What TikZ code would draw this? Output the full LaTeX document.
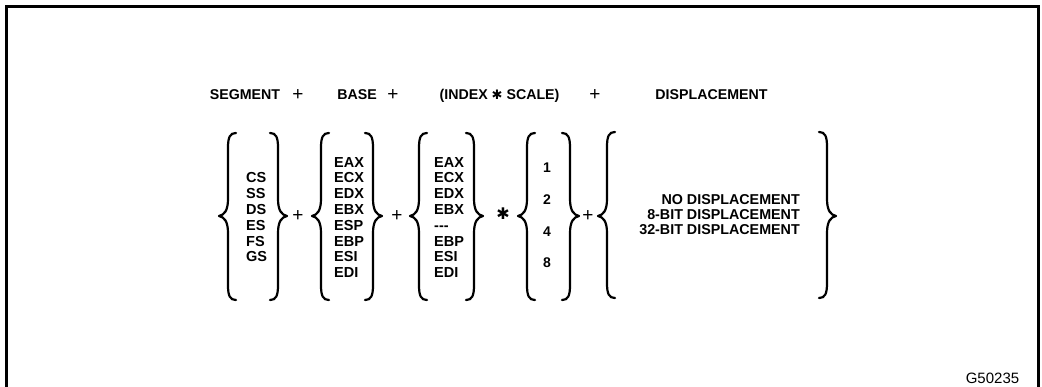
\documentclass[tikz,border=0pt]{standalone}
\usepackage{fontspec}
\setmainfont{Liberation Sans}
\newfontfamily\symf{DejaVu Sans}
\tikzset{
  brace/.style={line width=2.2pt, line cap=round, line join=round},
  frame/.style={line width=3pt},
  hdr/.style={font=\fontsize{14.2}{16}\selectfont\bfseries, inner sep=0pt, anchor=base},
  col/.style={font=\fontsize{14.5}{15.8}\selectfont\bfseries, inner sep=0pt, align=left, anchor=west},
  num/.style={font=\fontsize{14}{15}\selectfont\bfseries, inner sep=0pt},
  plus/.style={font=\fontsize{19}{19}\selectfont, inner sep=0pt},
  star/.style={font=\symf\fontsize{16}{16}\selectfont, inner sep=0pt}
}
% left brace: tip x, top y, bottom y, mid y
\newcommand\mylb[4]{%
  \draw[brace] ({#1+17},#2) .. controls ({#1+11},#2) and ({#1+9},{#2+4}) .. ({#1+9},{#2+15})
    -- ({#1+9},{#4-17}) .. controls ({#1+9},{#4-5}) and ({#1+5},{#4-1}) .. (#1,#4)
    .. controls ({#1+5},{#4+1}) and ({#1+9},{#4+5}) .. ({#1+9},{#4+17})
    -- ({#1+9},{#3-15}) .. controls ({#1+9},{#3-4}) and ({#1+11},#3) .. ({#1+17},#3);}
% right brace: tip x, top y, bottom y, mid y
\newcommand\myrb[4]{%
  \draw[brace] ({#1-17},#2) .. controls ({#1-11},#2) and ({#1-9},{#2+4}) .. ({#1-9},{#2+15})
    -- ({#1-9},{#4-17}) .. controls ({#1-9},{#4-5}) and ({#1-5},{#4-1}) .. (#1,#4)
    .. controls ({#1-5},{#4+1}) and ({#1-9},{#4+5}) .. ({#1-9},{#4+17})
    -- ({#1-9},{#3-15}) .. controls ({#1-9},{#3-4}) and ({#1-11},#3) .. ({#1-17},#3);}
\begin{document}
\begin{tikzpicture}[x=1pt,y=-1pt]
\useasboundingbox (0,0) rectangle (1042,387);
\fill[white] (0,0) rectangle (1042,387);
\begin{scope}
\clip (0,0) rectangle (1042,387);
\draw[frame] (6.5,400) -- (6.5,6.5) -- (1038.5,6.5) -- (1038.5,400);
\end{scope}

% header
\node[hdr] (hseg) at (245,100) {SEGMENT};
\node[plus] (hp1) at (298,95) {+};
\node[hdr] (hbase) at (357,100) {BASE};
\node[plus] (hp2) at (393,95) {+};
\node[hdr] (hidx) at (499.5,100) {(INDEX {\symf\fontsize{13}{13}\selectfont\raisebox{0.3pt}{✱}} SCALE)};
\node[plus] (hp3) at (595,95) {+};
\node[hdr] (hdisp) at (711.5,100) {DISPLACEMENT};

% braces
\mylb{219}{133}{300}{216}
\myrb{287}{133}{300}{216}
\mylb{312}{133}{300}{216}
\myrb{382}{133}{300}{216}
\mylb{410}{133}{300}{216}
\myrb{483}{133}{300}{216}
\mylb{518}{133}{300}{216}
\myrb{579}{133}{300}{216}
\mylb{598}{132}{298}{216}
\myrb{836}{132}{298}{216}

% operators
\node[plus] (p1) at (298,216) {+};
\node[plus] (p2) at (397,216) {+};
\node[star] (s1) at (503,214) {✱};
\node[plus] (p3) at (588,216) {+};

% columns
\node[col] (seg) at (246,217.5) {CS\\SS\\DS\\ES\\FS\\GS};
\node[col] (base) at (334,217.5) {EAX\\ECX\\EDX\\EBX\\ESP\\EBP\\ESI\\EDI};
\node[col] (idx) at (434,217.5) {EAX\\ECX\\EDX\\EBX\\{-}{-}{-}\\EBP\\ESI\\EDI};
\node[num] (n1) at (547,168) {1};
\node[num] (n2) at (547,200) {2};
\node[num] (n4) at (547,232) {4};
\node[num] (n8) at (547,263) {8};
\node[font=\fontsize{14.3}{15}\selectfont\bfseries, inner sep=0pt, align=right, anchor=east] (disp) at (800,215)
  {NO DISPLACEMENT\\8-BIT DISPLACEMENT\\32-BIT DISPLACEMENT};

\node[font=\fontsize{15}{15}\selectfont, inner sep=0pt] (fig) at (992.5,378) {G50235};
\end{tikzpicture}
\end{document}
